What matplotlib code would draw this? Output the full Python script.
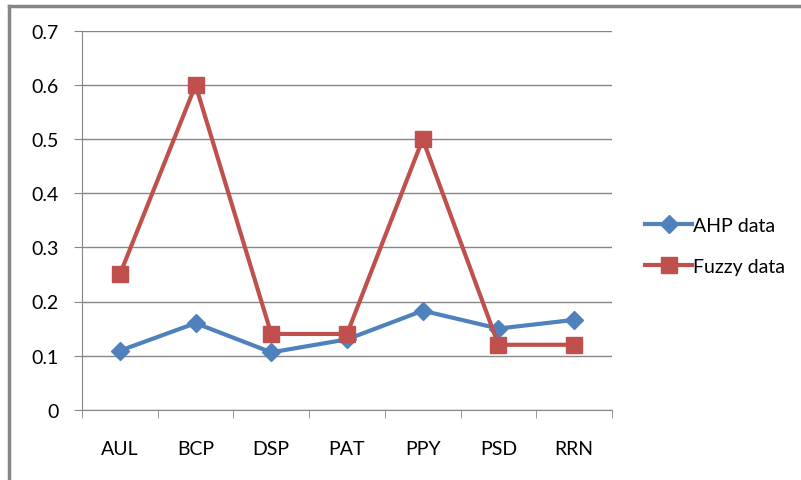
import matplotlib.pyplot as plt
from matplotlib.lines import Line2D

# Dados
categorias = ['AUL', 'BCP', 'DSP', 'PAT', 'PPY', 'PSD', 'RRN']
ahp = [0.109, 0.160, 0.106, 0.130, 0.183, 0.150, 0.166]
fuzzy = [0.25, 0.60, 0.14, 0.14, 0.50, 0.12, 0.12]
yticks = [0, 0.1, 0.2, 0.3, 0.4, 0.5, 0.6, 0.7]

plt.rcParams['font.family'] = ['Lato', 'DejaVu Sans']

fig = plt.figure(figsize=(8.01, 4.81), dpi=100)
ax = fig.add_axes([82/801, (481 - 410.7)/481, 530/801, 378.7/481])

x = list(range(len(categorias)))
ax.plot(x, ahp, color='#4F81BD', lw=3, marker='D', ms=9, label='AHP data', zorder=3)
ax.plot(x, fuzzy, color='#C0504D', lw=3, marker='s', ms=11, label='Fuzzy data', zorder=4)

ax.set_xlim(-0.5, len(categorias) - 0.5)
ax.set_ylim(0, 0.7)
ax.set_yticks(yticks)
ax.set_yticklabels(['0' if v == 0 else f'{v:.1f}' for v in yticks])
ax.set_xticks(x)
ax.set_xticklabels(categorias)
ax.set_xticks([i - 0.5 for i in range(len(categorias) + 1)], minor=True)
ax.tick_params(axis='x', which='major', length=0, pad=22, labelsize=14)
ax.tick_params(axis='x', which='minor', length=6, color='#868686', direction='out')
ax.tick_params(axis='y', length=6, color='#868686', pad=11, labelsize=14)

ax.grid(axis='y', color='#868686', lw=1)
ax.set_axisbelow(True)
for s in ['top', 'right']:
    ax.spines[s].set_visible(False)
for s in ['left', 'bottom']:
    ax.spines[s].set_color('#868686')

ax.legend(loc='center left', bbox_to_anchor=(1.03, 0.432), frameon=False,
          fontsize=14, handlelength=2.4, handletextpad=0.05, labelspacing=1.22)

# Moldura do gráfico (só topo e esquerda visíveis)
fig.add_artist(Line2D([8.5/801, 8.5/801], [0, 1 - 6.5/481], color='#868686', lw=2.5))
fig.add_artist(Line2D([8.5/801, 1], [1 - 6.5/481, 1 - 6.5/481], color='#868686', lw=2.5))

plt.savefig('out.png', dpi=100)
